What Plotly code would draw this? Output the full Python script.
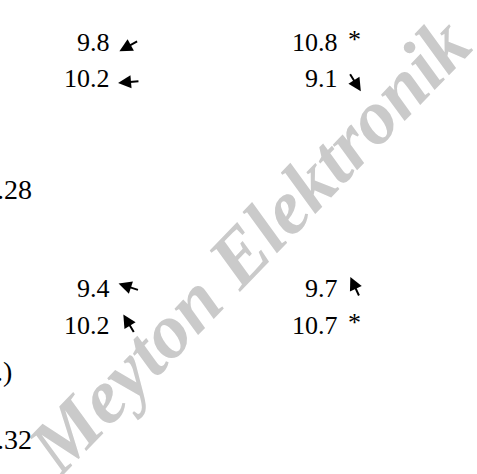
import math
import plotly.graph_objects as go

# shot values per row, left and right column
left_values = ["9.8", "10.2", "9.4", "10.2"]
right_values = ["10.8", "9.1", "9.7", "10.7"]
# direction of the marker arrow in degrees (None = star, a ten)
left_dirs = [209, 185, 162, 121]
right_dirs = [None, 302, 115, None]
# totals at the left edge (cut off in the scan)
side_labels = [".28", ".)", ".32"]
watermark = "Meyton Elektronik"

W, H = 477, 474
text_y = [42, 78, 288, 325]
arrow_y = [46, 82, 287, 324]
side_y = [189, 371, 439]
col_right = [112, 340]
arrow_x = [129, 355]
ARROW_LEN = 22
FONT = "Liberation Serif"

fig = go.Figure()
fig.add_trace(go.Scatter(x=[0, W], y=[0, H], mode="markers",
                         marker=dict(opacity=0), hoverinfo="skip"))

# watermark first so the numbers sit on top
fig.add_annotation(x=248, y=246, text=watermark, showarrow=False,
                   textangle=-46, xanchor="center", yanchor="middle",
                   font=dict(family=FONT, size=77, color="#cacaca",
                             weight="bold", style="italic"))

for col, (values, dirs) in enumerate([(left_values, left_dirs), (right_values, right_dirs)]):
    for i, (val, d) in enumerate(zip(values, dirs)):
        fig.add_annotation(x=col_right[col], y=text_y[i], text=val,
                           showarrow=False, xanchor="right", yanchor="middle",
                           font=dict(family=FONT, size=26, color="black"))
        if d is None:
            fig.add_annotation(x=col_right[col] + 6, y=text_y[i] - 3, text="*",
                               showarrow=False, xanchor="left", yanchor="middle",
                               font=dict(family=FONT, size=26, color="black"))
        else:
            dx = math.cos(math.radians(d))
            dy = -math.sin(math.radians(d))
            cx, cy = arrow_x[col], arrow_y[i]
            fig.add_annotation(x=cx + dx * ARROW_LEN / 2, y=cy + dy * ARROW_LEN / 2,
                               ax=-dx * ARROW_LEN, ay=-dy * ARROW_LEN,
                               text="", showarrow=True, arrowhead=2,
                               arrowsize=1.3, arrowwidth=2, arrowcolor="black",
                               standoff=0)

for lab, y in zip(side_labels, side_y):
    fig.add_annotation(x=34 if lab != ".)" else 14, y=y, text=lab,
                       showarrow=False, xanchor="right", yanchor="middle",
                       font=dict(family=FONT, size=28, color="black"))

fig.update_xaxes(range=[0, W], visible=False)
fig.update_yaxes(range=[H, 0], visible=False)
fig.update_layout(width=W, height=H, margin=dict(l=0, r=0, t=0, b=0),
                  plot_bgcolor="white", paper_bgcolor="white", showlegend=False)

# drop the default page margin so the figure starts at the window corner
fig.write_html("out.html", config={"displayModeBar": False},
               post_script="document.body.style.margin='0';")
